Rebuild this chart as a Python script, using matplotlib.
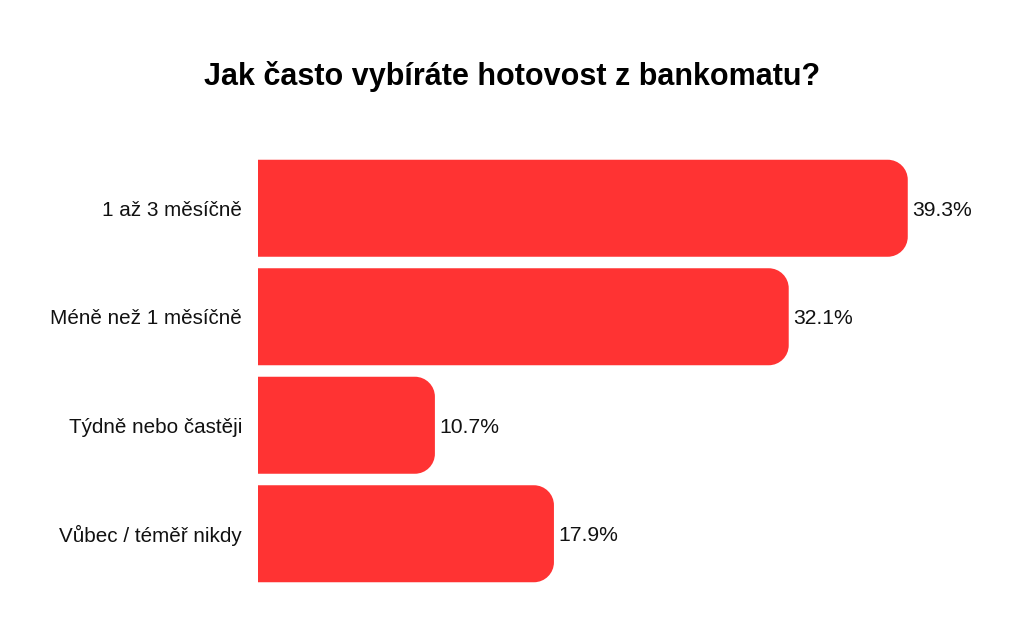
import matplotlib.pyplot as plt
from matplotlib.path import Path
from matplotlib.patches import PathPatch

# --- DATA ---
categories = ['1 až 3 měsíčně', 'Méně než 1 měsíčně', 'Týdně nebo častěji', 'Vůbec / téměř nikdy']
values = [39.3, 32.1, 10.7, 17.9]
value_labels = ['39.3%', '32.1%', '10.7%', '17.9%']
title = 'Jak často vybíráte hotovost z bankomatu?'

BAR_COLOR = '#FF3333'
BAR_HEIGHT = 0.894
RADIUS_PX = 20

plt.rcParams['font.family'] = ['Liberation Sans', 'DejaVu Sans']

fig = plt.figure(figsize=(10.24, 6.18), dpi=100)
ax = fig.add_axes([258 / 1024, 1 - 588 / 618, 744 / 1024, 434 / 618])
ax.set_xlim(0, 45)
ax.set_ylim(len(categories) - 0.5, -0.5)

# pixel -> data unit conversion for the rounded corners
px_x = 744 / 45
px_y = 434 / len(categories)
rx = RADIUS_PX / px_x
ry = RADIUS_PX / px_y
k = 0.5523


def rounded_bar(y, v):
    y0 = y - BAR_HEIGHT / 2
    y1 = y + BAR_HEIGHT / 2
    verts = [
        (0, y0), (v - rx, y0),
        (v - rx + k * rx, y0), (v, y0 + ry - k * ry), (v, y0 + ry),
        (v, y1 - ry),
        (v, y1 - ry + k * ry), (v - rx + k * rx, y1), (v - rx, y1),
        (0, y1), (0, y0),
    ]
    codes = [Path.MOVETO, Path.LINETO,
             Path.CURVE4, Path.CURVE4, Path.CURVE4,
             Path.LINETO,
             Path.CURVE4, Path.CURVE4, Path.CURVE4,
             Path.LINETO, Path.CLOSEPOLY]
    return PathPatch(Path(verts, codes), facecolor=BAR_COLOR, edgecolor='none')


for i, v in enumerate(values):
    ax.add_patch(rounded_bar(i, v))
    ax.annotate(value_labels[i], (v, i), xytext=(3.2, -1.3), textcoords='offset points',
                va='center', ha='left', fontsize=15.2, color='#111111')

ax.set_yticks(range(len(categories)))
ax.set_yticklabels(categories, fontsize=14.9, color='#111111')
ax.tick_params(axis='y', length=0, pad=11.5)
ax.set_xticks([])
for s in ax.spines.values():
    s.set_visible(False)

fig.text(0.5, 1 - 77 / 618, title, ha='center', va='center',
         fontsize=22, fontweight='bold', color='#000000')

fig.savefig('out.png', dpi=100, facecolor='white')
